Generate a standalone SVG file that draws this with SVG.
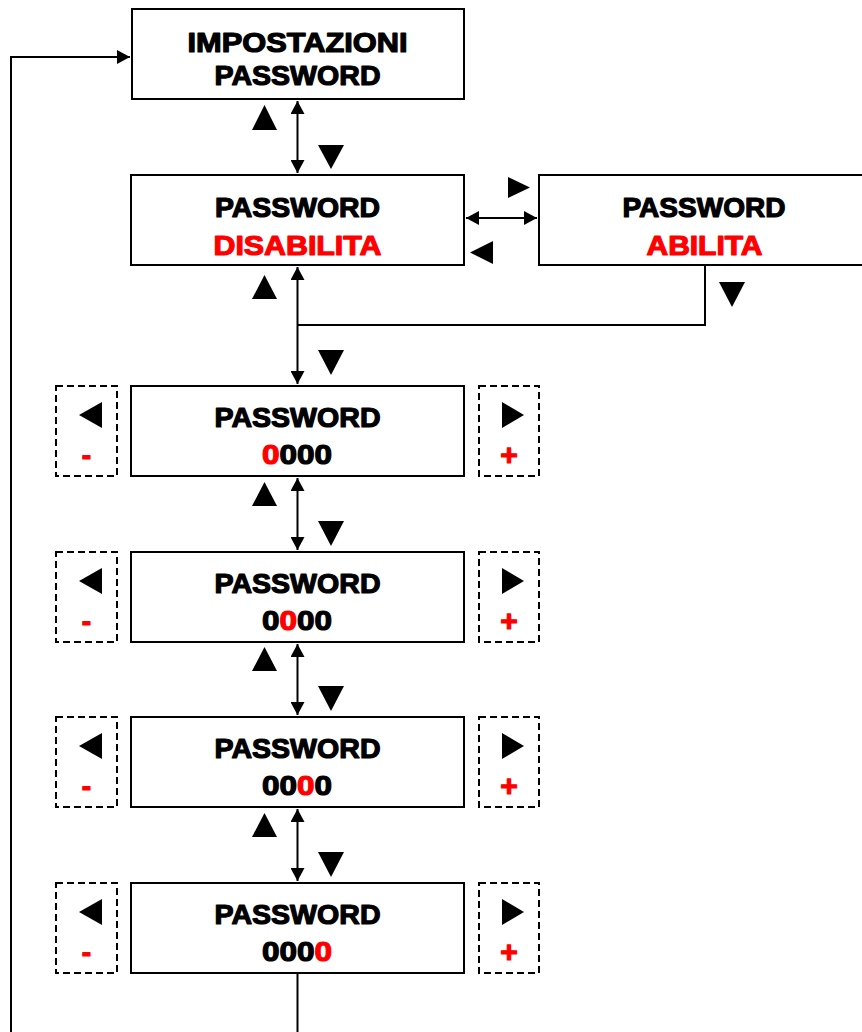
<svg xmlns="http://www.w3.org/2000/svg" width="862" height="1032" viewBox="0 0 862 1032">
<defs>
<style>
.box{fill:#fff;stroke:#000;stroke-width:2}
.dash{fill:none;stroke:#000;stroke-width:2;stroke-dasharray:7 4}
.t{font-family:"Liberation Sans",Arial,sans-serif;font-weight:bold;font-size:28px;text-anchor:middle;fill:#000;stroke:#000;stroke-width:1.2;stroke-linejoin:round}
.r{fill:#ff0000;stroke:#ff0000}
.ln{fill:none;stroke:#000;stroke-width:2}
.tri{fill:#000}
</style>
<marker id="ah" viewBox="0 0 13 14" refX="13" refY="7" markerWidth="13" markerHeight="14" markerUnits="userSpaceOnUse" orient="auto-start-reverse">
<path d="M0,0 L13,7 L0,14 z" fill="#000"/>
</marker>
</defs>
<rect width="862" height="1032" fill="#fff"/>

<g id="connectors">
<path class="ln" d="M11,1040 V57 H130" marker-end="url(#ah)"/>
<path class="ln" d="M297.5,101 V173" marker-start="url(#ah)" marker-end="url(#ah)"/>
<path class="ln" d="M466,218 H537" marker-start="url(#ah)" marker-end="url(#ah)"/>
<path class="ln" d="M705,266 V325 H297.5"/>
<path class="ln" d="M297.5,267 V384" marker-start="url(#ah)" marker-end="url(#ah)"/>
<path class="ln" d="M297.5,478 V550" marker-start="url(#ah)" marker-end="url(#ah)"/>
<path class="ln" d="M297.5,644 V715" marker-start="url(#ah)" marker-end="url(#ah)"/>
<path class="ln" d="M297.5,809 V881" marker-start="url(#ah)" marker-end="url(#ah)"/>
<path class="ln" d="M297.5,974 V1040"/>
</g>

<g id="keys">
<polygon class="tri" points="264.5,105 252,130 277,130"/>
<polygon class="tri" points="318,145 344,145 331,169"/>
<polygon class="tri" points="508,177 530,187.5 508,198"/>
<polygon class="tri" points="493,241 470,252.5 493,264"/>
<polygon class="tri" points="719,282 745,282 732,307"/>
<polygon class="tri" points="264.5,275 252,299 277,299"/>
<polygon class="tri" points="318,350 344,350 331,375"/>
<polygon class="tri" points="264.5,482 252,506 277,506"/>
<polygon class="tri" points="318,521 344,521 331,546"/>
<polygon class="tri" points="264.5,647 252,671 277,671"/>
<polygon class="tri" points="318,686 344,686 331,711"/>
<polygon class="tri" points="264.5,813 252,837 277,837"/>
<polygon class="tri" points="318,852 344,852 331,877"/>
</g>

<g id="n-impostazioni">
<rect class="box" x="132" y="9" width="332" height="90"/>
<text class="t" x="297.5" y="52" textLength="220" lengthAdjust="spacingAndGlyphs">IMPOSTAZIONI</text>
<text class="t" x="297.5" y="85" textLength="166" lengthAdjust="spacingAndGlyphs">PASSWORD</text>
</g>

<g id="n-disabilita">
<rect class="box" x="131" y="175" width="333" height="90"/>
<text class="t" x="297.5" y="217" textLength="165" lengthAdjust="spacingAndGlyphs">PASSWORD</text>
<text class="t r" x="297.5" y="255" textLength="168" lengthAdjust="spacingAndGlyphs">DISABILITA</text>
</g>

<g id="n-abilita">
<rect class="box" x="539" y="175" width="331" height="90"/>
<text class="t" x="704" y="217" textLength="163" lengthAdjust="spacingAndGlyphs">PASSWORD</text>
<text class="t r" x="704.5" y="255" textLength="116" lengthAdjust="spacingAndGlyphs">ABILITA</text>
</g>

<g id="n-digit1">
<rect class="dash" x="56" y="386" width="61" height="90"/>
<polygon class="tri" points="79,415 102,402 102,428"/>
<text class="t r" x="86.5" y="465">-</text>
<rect class="box" x="131" y="386" width="333" height="90"/>
<text class="t" x="297.5" y="427" textLength="166" lengthAdjust="spacingAndGlyphs">PASSWORD</text>
<text class="t" x="297" y="464" textLength="70" lengthAdjust="spacingAndGlyphs"><tspan class="r">0</tspan>000</text>
<rect class="dash" x="479" y="386" width="60" height="90"/>
<polygon class="tri" points="502,402 524,415 502,428"/>
<text class="t r" x="509" y="465" style="font-size:30px">+</text>
</g>

<g id="n-digit2">
<rect class="dash" x="56" y="552" width="61" height="90"/>
<polygon class="tri" points="79,581 102,568 102,594"/>
<text class="t r" x="86.5" y="631">-</text>
<rect class="box" x="131" y="552" width="333" height="90"/>
<text class="t" x="297.5" y="593" textLength="166" lengthAdjust="spacingAndGlyphs">PASSWORD</text>
<text class="t" x="297" y="630" textLength="70" lengthAdjust="spacingAndGlyphs">0<tspan class="r">0</tspan>00</text>
<rect class="dash" x="479" y="552" width="60" height="90"/>
<polygon class="tri" points="502,568 524,581 502,594"/>
<text class="t r" x="509" y="631" style="font-size:30px">+</text>
</g>

<g id="n-digit3">
<rect class="dash" x="56" y="717" width="61" height="90"/>
<polygon class="tri" points="79,746 102,733 102,759"/>
<text class="t r" x="86.5" y="796">-</text>
<rect class="box" x="131" y="717" width="333" height="90"/>
<text class="t" x="297.5" y="758" textLength="166" lengthAdjust="spacingAndGlyphs">PASSWORD</text>
<text class="t" x="297" y="795" textLength="70" lengthAdjust="spacingAndGlyphs">00<tspan class="r">0</tspan>0</text>
<rect class="dash" x="479" y="717" width="60" height="90"/>
<polygon class="tri" points="502,733 524,746 502,759"/>
<text class="t r" x="509" y="796" style="font-size:30px">+</text>
</g>

<g id="n-digit4">
<rect class="dash" x="56" y="883" width="61" height="90"/>
<polygon class="tri" points="79,912 102,899 102,925"/>
<text class="t r" x="86.5" y="962">-</text>
<rect class="box" x="131" y="883" width="333" height="90"/>
<text class="t" x="297.5" y="924" textLength="166" lengthAdjust="spacingAndGlyphs">PASSWORD</text>
<text class="t" x="297" y="961" textLength="70" lengthAdjust="spacingAndGlyphs">000<tspan class="r">0</tspan></text>
<rect class="dash" x="479" y="883" width="60" height="90"/>
<polygon class="tri" points="502,899 524,912 502,925"/>
<text class="t r" x="509" y="962" style="font-size:30px">+</text>
</g>
</svg>
